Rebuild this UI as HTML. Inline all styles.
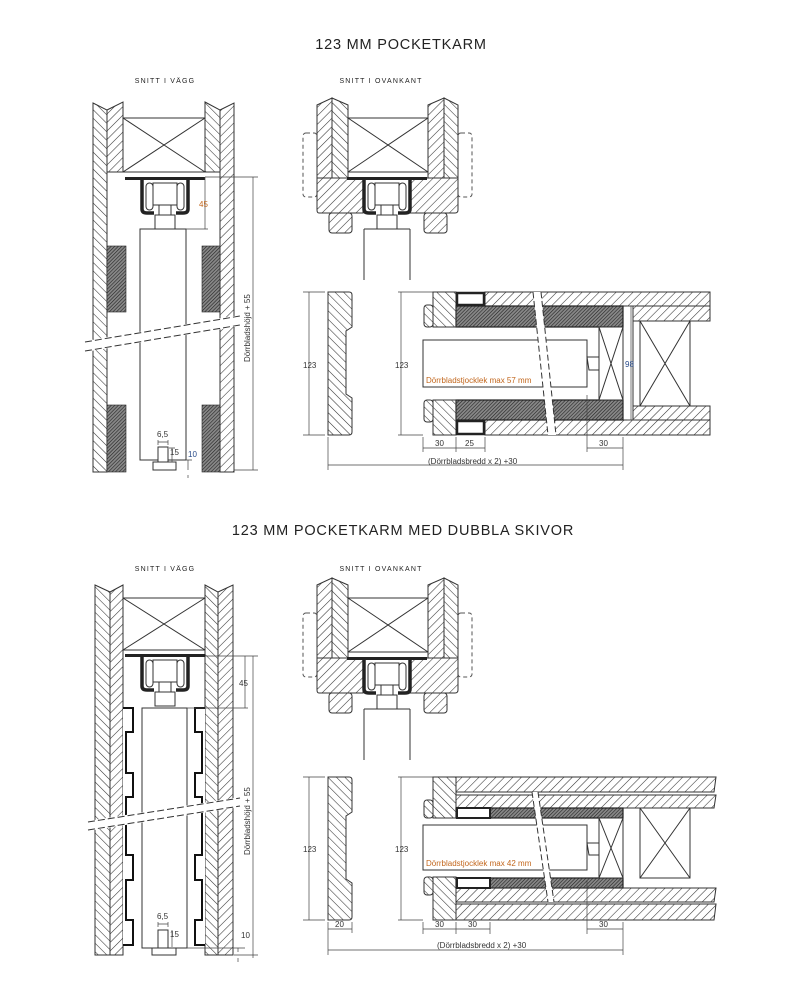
<!DOCTYPE html>
<html><head><meta charset="utf-8"><style>
html,body{margin:0;padding:0;background:#fff;}
svg{display:block;}
.t{font-family:"Liberation Sans",sans-serif;fill:#222;}
.ln{stroke:#333;stroke-width:1;fill:none;}
.hA{fill:url(#hA);stroke:#333;stroke-width:1;}
.hB{fill:url(#hB);stroke:#333;stroke-width:1;}
.hD{fill:url(#hD);stroke:#222;stroke-width:1.2;}
.w{fill:#fff;stroke:#333;stroke-width:1;}
.d{stroke:#444;stroke-width:.7;fill:none;}
.dt{font-family:"Liberation Sans",sans-serif;font-size:8px;fill:#333;}
</style></head><body>
<svg width="795" height="990" viewBox="0 0 795 990" xmlns="http://www.w3.org/2000/svg">
<defs>
<pattern id="hA" width="6" height="6" patternUnits="userSpaceOnUse" patternTransform="rotate(45)"><line x1="0" y1="0" x2="0" y2="6" stroke="#333" stroke-width="1.1"/></pattern>
<pattern id="hB" width="6" height="6" patternUnits="userSpaceOnUse" patternTransform="rotate(-45)"><line x1="0" y1="0" x2="0" y2="6" stroke="#333" stroke-width="1.1"/></pattern>
<pattern id="hD" width="2.5" height="2.5" patternUnits="userSpaceOnUse" patternTransform="rotate(45)"><rect width="2.5" height="2.5" fill="#888"/><line x1="0" y1="0" x2="0" y2="2.5" stroke="#222" stroke-width="1.2"/></pattern>
<g id="trolley">
<rect x="-15" y="0" width="80" height="3" fill="#222"/>
<path d="M2,3 V32 Q2,36 7,36 H14 M48,3 V32 Q48,36 43,36 H36" stroke="#222" stroke-width="3.5" fill="none"/>
<rect x="13" y="6" width="24" height="22" class="w"/>
<rect x="6" y="6" width="7" height="27" rx="3.5" class="w"/>
<rect x="37" y="6" width="7" height="27" rx="3.5" class="w"/>
<rect x="19" y="28" width="12" height="10" class="w"/>
<rect x="15" y="38" width="20" height="14" class="w"/>
</g>
<g id="ovan">
<rect x="303" y="133" width="14" height="64" rx="3" fill="none" stroke="#555" stroke-dasharray="4,3"/>
<rect x="458" y="133" width="14" height="64" rx="3" fill="none" stroke="#555" stroke-dasharray="4,3"/>
<polygon points="317,105 332,98 332,178 317,178" class="hA"/>
<polygon points="332,98 348,105 348,178 332,178" class="hB"/>
<polygon points="428,105 444,98 444,178 428,178" class="hA"/>
<polygon points="444,98 458,105 458,178 444,178" class="hB"/>
<rect x="348" y="118" width="80" height="54" class="w"/>
<path d="M348,118 L428,172 M428,118 L348,172" class="ln"/>
<path d="M319,178 H363 V213 H319 Q317,213 317,210 V178 Z" class="hA"/>
<path d="M410,178 H458 V210 Q458,213 455,213 H410 Z" class="hA"/>
<rect x="329" y="213" width="23" height="20" rx="3" class="hA"/>
<rect x="424" y="213" width="23" height="20" rx="3" class="hA"/>
<line x1="364" y1="229" x2="364" y2="280" class="ln"/>
<line x1="410" y1="229" x2="410" y2="280" class="ln"/>
<line x1="364" y1="229" x2="410" y2="229" class="ln"/>
<use href="#trolley" x="362" y="177"/>
</g>
</defs>

<text class="t" x="401" y="49" font-size="14.5" text-anchor="middle" letter-spacing="0.8">123 MM POCKETKARM</text>
<text class="t" x="165" y="83" font-size="7" text-anchor="middle" letter-spacing="1.2" fill="#555">SNITT I VÄGG</text>
<text class="t" x="381" y="83" font-size="7" text-anchor="middle" letter-spacing="1.2" fill="#555">SNITT I OVANKANT</text>
<text class="t" x="403" y="535" font-size="14.5" text-anchor="middle" letter-spacing="0.8">123 MM POCKETKARM MED DUBBLA SKIVOR</text>
<text class="t" x="165" y="571" font-size="7" text-anchor="middle" letter-spacing="1.2" fill="#555">SNITT I VÄGG</text>
<text class="t" x="381" y="571" font-size="7" text-anchor="middle" letter-spacing="1.2" fill="#555">SNITT I OVANKANT</text>

<polygon points="93,103 107,110 107,472 93,472" class="hB"/>
<polygon points="107,110 123,102 123,172 107,172" class="hA"/>
<polygon points="205,102 220,110 220,172 205,172" class="hB"/>
<polygon points="220,110 234,103 234,472 220,472" class="hA"/>
<rect x="123" y="118" width="82" height="54" class="w"/>
<path d="M123,118 L205,172 M205,118 L123,172" class="ln"/>
<rect x="107" y="246" width="19" height="66" class="hD" style="stroke-width:.6"/>
<rect x="107" y="405" width="19" height="67" class="hD" style="stroke-width:.6"/>
<rect x="202" y="246" width="18" height="66" class="hD" style="stroke-width:.6"/>
<rect x="202" y="405" width="18" height="67" class="hD" style="stroke-width:.6"/>
<rect x="140" y="229" width="46" height="231" class="w"/>
<use href="#trolley" x="140" y="177"/>
<polygon points="85,341 240,315 240,326 85,352" fill="#fff"/>
<path d="M85,342 L240,316 M85,351 L240,325" stroke="#333" stroke-width="1" stroke-dasharray="7,3" fill="none"/>
<rect x="158" y="447" width="10" height="15" class="w"/>
<rect x="153" y="462" width="23" height="8" class="w"/>
<path d="M205,177 H258 M186,229 H208 M205,177 V229 M186,460 H192 M188,475 V478" class="d"/>
<text class="dt" x="199" y="207" style="fill:#c2661c">45</text>
<path d="M253,177 V470 M234,470 H258" class="d"/>
<text class="dt" x="0" y="0" transform="translate(250,362) rotate(-90)">Dörrbladshöjd + 55</text>
<path d="M158,440 V445 M168,440 V445 M158,442 H168 M172,448 V462 M169,448 H175 M169,462 H175 M188,460 V470" class="d"/>
<text class="dt" x="157" y="437">6,5</text>
<text class="dt" x="170" y="455">15</text>
<text class="dt" x="188" y="457" style="fill:#2a4c8a">10</text>

<use href="#ovan"/>

<path d="M328,292 H349 Q352,292 352,295 V327 L346,331 V394 L352,398 V432 Q352,435 349,435 H328 Z" class="hB"/>
<path d="M303,292 H325 M303,435 H325 M309,292 V435" class="d"/>
<text class="dt" x="303" y="368">123</text>
<path d="M398,292 H433 M398,435 H423 M401,292 V435" class="d"/>
<text class="dt" x="395" y="368">123</text>
<rect x="485" y="292" width="225" height="14" class="hA"/>
<rect x="456" y="306" width="167" height="21" class="hD"/>
<path d="M433,292 H456 V327 H433 Z" class="hB"/>
<rect x="424" y="305" width="9" height="22" rx="3" class="hB"/>
<rect x="457" y="293" width="27" height="12" fill="#fff" stroke="#222" stroke-width="2.5"/>
<rect x="485" y="420" width="225" height="15" class="hA"/>
<rect x="456" y="400" width="167" height="20" class="hD"/>
<path d="M433,400 H456 V435 H433 Z" class="hB"/>
<rect x="424" y="400" width="9" height="22" rx="3" class="hB"/>
<rect x="457" y="421" width="27" height="13" fill="#fff" stroke="#222" stroke-width="2.5"/>
<rect x="633" y="306" width="77" height="15" class="hA"/>
<rect x="633" y="406" width="77" height="14" class="hA"/>
<rect x="640" y="321" width="50" height="85" class="w"/>
<path d="M640,321 L690,406 M690,321 L640,406" class="ln"/>
<line x1="633" y1="306" x2="633" y2="420" class="ln"/>
<rect x="599" y="327" width="24" height="73" class="w"/>
<path d="M599,327 L623,400 M623,327 L599,400" class="ln"/>
<rect x="423" y="340" width="164" height="47" class="w"/>
<path d="M587,357 H599 V370 H589 Z" class="w"/>
<text class="dt" x="426" y="383" style="fill:#c2661c">Dörrbladstjocklek max 57 mm</text>
<polygon points="533,292 541,292 556,435 548,435" fill="#fff"/>
<path d="M533,292 L548,435 M541,292 L556,435" stroke="#333" stroke-dasharray="6,3"/>
<path d="M627,306 H636 M627,420 H636 M631,306 V420" class="d"/>
<text class="dt" x="625" y="367" style="fill:#2a4c8a">98</text>
<path d="M423,437 V452 M456,437 V452 M485,437 V452 M423,448 H485 M587,395 V452 M623,437 V470 M587,448 H623 M328,437 V470 M328,465 H623" class="d"/>
<text class="dt" x="435" y="446">30</text>
<text class="dt" x="465" y="446">25</text>
<text class="dt" x="599" y="446">30</text>
<text class="dt" x="428" y="464">(Dörrbladsbredd x 2) +30</text>

<polygon points="95,585 110,592 110,955 95,955" class="hB"/>
<polygon points="110,592 123,585 123,955 110,955" class="hA"/>
<polygon points="205,585 218,592 218,955 205,955" class="hB"/>
<polygon points="218,592 233,585 233,955 218,955" class="hA"/>
<rect x="123" y="598" width="82" height="52" class="w"/>
<path d="M123,598 L205,650 M205,598 L123,650" class="ln"/>
<path d="M123,708 H133 V732 H126 V773 H133 V797 H126 V855 H133 V880 H126 V920 H133 V945 H123" fill="#fff" stroke="#111" stroke-width="2"/>
<path d="M205,708 H195 V732 H202 V773 H195 V797 H202 V855 H195 V880 H202 V920 H195 V945 H205" fill="#fff" stroke="#111" stroke-width="2"/>
<rect x="142" y="708" width="45" height="240" class="w"/>
<use href="#trolley" x="140" y="654"/>
<polygon points="88,821 240,797 240,807 88,831" fill="#fff"/>
<path d="M88,822 L240,798 M88,830 L240,806" stroke="#333" stroke-dasharray="7,3" fill="none"/>
<rect x="158" y="930" width="10" height="18" class="w"/>
<rect x="152" y="948" width="24" height="7" class="w"/>
<path d="M205,656 H258 M187,708 H248 M245,656 V708 M253,656 V958 M234,955 H258 M238,948 V952 M238,958 V962 M187,948 H245" class="d"/>
<text class="dt" x="239" y="686">45</text>
<text class="dt" x="0" y="0" transform="translate(250,855) rotate(-90)">Dörrbladshöjd + 55</text>
<path d="M158,922 V927 M168,922 V927 M158,924 H168 M172,930 V947" class="d"/>
<text class="dt" x="157" y="919">6,5</text>
<text class="dt" x="170" y="937">15</text>
<text class="dt" x="241" y="938">10</text>

<use href="#ovan" transform="translate(0,480)"/>

<path d="M328,777 H349 Q352,777 352,780 V812 L346,816 V879 L352,883 V917 Q352,920 349,920 H328 Z" class="hB"/>
<path d="M303,777 H325 M303,920 H325 M309,777 V920" class="d"/>
<text class="dt" x="303" y="852">123</text>
<path d="M398,777 H433 M398,920 H423 M401,777 V920" class="d"/>
<text class="dt" x="395" y="852">123</text>
<polygon points="456,777 716,777 714,792 456,792" class="hA"/>
<polygon points="456,795 716,795 714,808 456,808" class="hA"/>
<rect x="456" y="808" width="167" height="10" class="hD"/>
<path d="M433,777 H456 V818 H433 Z" class="hB"/>
<rect x="424" y="800" width="9" height="18" rx="3" class="hB"/>
<rect x="457" y="808" width="33" height="10" fill="#fff" stroke="#222" stroke-width="2"/>
<rect x="456" y="878" width="167" height="10" class="hD"/>
<polygon points="456,888 716,888 714,902 456,902" class="hA"/>
<polygon points="456,904 716,904 714,920 456,920" class="hA"/>
<path d="M433,877 H456 V920 H433 Z" class="hB"/>
<rect x="424" y="877" width="9" height="18" rx="3" class="hB"/>
<rect x="457" y="878" width="33" height="10" fill="#fff" stroke="#222" stroke-width="2"/>
<rect x="640" y="808" width="50" height="70" class="w"/>
<path d="M640,808 L690,878 M690,808 L640,878" class="ln"/>
<rect x="599" y="818" width="24" height="60" class="w"/>
<path d="M599,818 L623,878 M623,818 L599,878" class="ln"/>
<rect x="423" y="825" width="164" height="45" class="w"/>
<path d="M587,843 H599 V855 H589 Z" class="w"/>
<text class="dt" x="426" y="866" style="fill:#c2661c">Dörrbladstjocklek max 42 mm</text>
<polygon points="532,792 538,792 554,902 548,902" fill="#fff"/>
<path d="M532,792 L548,902 M538,792 L554,902" stroke="#333" stroke-dasharray="6,3"/>
<path d="M328,922 V933 M352,922 V933 M328,929 H352" class="d"/>
<text class="dt" x="335" y="927">20</text>
<path d="M423,922 V934 M456,922 V934 M490,922 V934 M423,929 H490 M587,880 V934 M623,922 V955 M587,929 H623 M328,933 V955 M328,950 H623" class="d"/>
<text class="dt" x="435" y="927">30</text>
<text class="dt" x="468" y="927">30</text>
<text class="dt" x="599" y="927">30</text>
<text class="dt" x="437" y="948">(Dörrbladsbredd x 2) +30</text>
</svg>
</body></html>
